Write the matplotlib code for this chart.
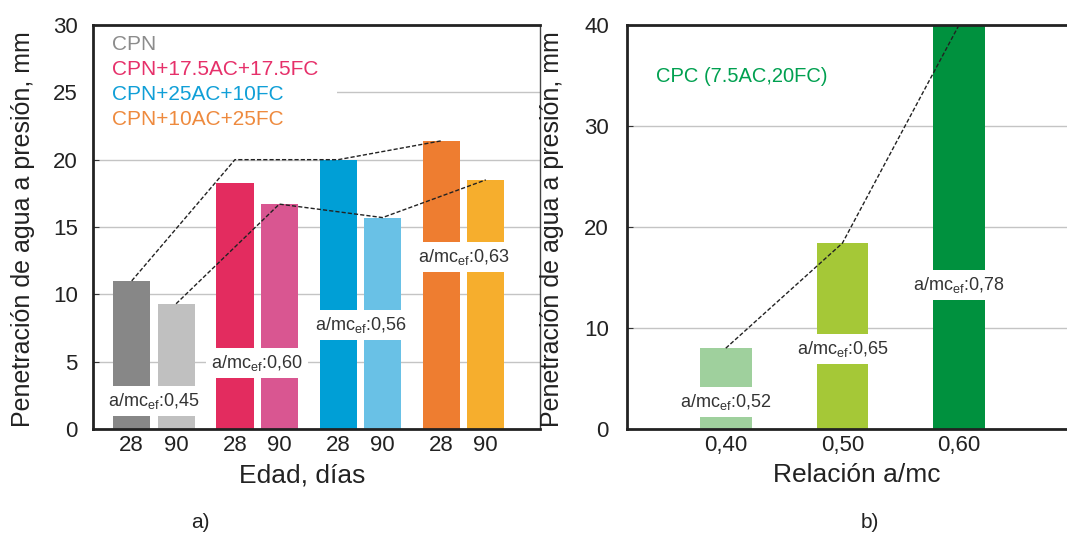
import numpy as np
import matplotlib
matplotlib.use('Agg')
import matplotlib.pyplot as plt
from matplotlib.patches import Patch

plt.rcParams['font.family'] = ['Liberation Sans', 'DejaVu Sans']
plt.rcParams['mathtext.fontset'] = 'custom'
plt.rcParams['mathtext.rm'] = 'Liberation Sans'
plt.rcParams['mathtext.it'] = 'Liberation Sans'

# panel a) data
groups = ['CPN', 'CPN+17.5AC+17.5FC', 'CPN+25AC+10FC', 'CPN+10AC+25FC']
ages = ['28', '90']
pen_28 = [11.0, 18.3, 20.0, 21.4]
pen_90 = [9.3, 16.7, 15.7, 18.5]
trend_28 = [11.0, 20.0, 20.0, 21.4]
trend_90 = [9.3, 16.7, 15.7, 18.5]
amc_a = ['0,45', '0,60', '0,56', '0,63']
amc_a_y = [2.1, 4.9, 7.75, 12.75]

# panel b) data
ratios = ['0,40', '0,50', '0,60']
pen_cpc = [8.0, 18.4, 40.0]
amc_b = ['0,52', '0,65', '0,78']
amc_b_y = [2.7, 7.9, 14.25]

col_28 = ['#878787', '#e32c5f', '#009fd6', '#ee7d30']
col_90 = ['#c0c0c0', '#d95691', '#69c1e6', '#f6ae2d']
col_leg = ['#8c8c8c', '#e6306a', '#109fd7', '#ee8a3e']
col_b = ['#9fd09d', '#a5c837', '#00913e']

W, H = 1067, 534
fig = plt.figure(figsize=(W / 100, H / 100), dpi=100)
bot = (H - 429) / H
hgt = (429 - 25) / H
ax1 = fig.add_axes([93 / W, bot, (540 - 93) / W, hgt])
ax2 = fig.add_axes([627 / W, bot, (1067 - 627) / W, hgt])

txt = '#222222'
bbox = dict(boxstyle='square,pad=0.28', fc='white', ec='none')

# ---- panel a
x = np.arange(len(groups))
off, bw = 0.215, 0.36
ax1.bar(x - off, pen_28, bw, color=col_28, zorder=2)
ax1.bar(x + off, pen_90, bw, color=col_90, zorder=2)
ax1.plot(x - off, trend_28, color='#222222', ls=(0, (3, 1.5)), lw=1, zorder=4)
ax1.plot(x + off, trend_90, color='#222222', ls=(0, (3, 1.5)), lw=1, zorder=4)
for xi, s, yi in zip(x, amc_a, amc_a_y):
    ax1.text(xi, yi, r'a/mc$_{\mathrm{ef}}$:' + s, ha='center', va='center',
             fontsize=13, color='#333333', bbox=bbox, zorder=3)

ax1.set_xlim(-0.59, 3.74)
ax1.set_ylim(0, 30)
ax1.set_yticks(range(0, 31, 5))
ax1.set_xticks(np.concatenate([x - off, x + off]))
ax1.set_xticklabels(ages[:1] * len(x) + ages[1:] * len(x))
ax1.tick_params(axis='x', length=0, pad=4, labelsize=16, labelcolor=txt)
ax1.tick_params(axis='y', length=4, direction='in', pad=11, labelsize=16,
                labelcolor=txt, color='#333333')
ax1.grid(axis='y', color='#c4c4c4', lw=1, zorder=0)
ax1.set_xlabel('Edad, días', fontsize=19, color=txt)
ax1.xaxis.set_label_coords(0.467, -0.085)
ax1.set_ylabel('Penetración de agua a presión, mm', fontsize=18, color=txt)
ax1.yaxis.set_label_coords(-0.13, 0.495)
for s in ['left', 'top', 'bottom']:
    ax1.spines[s].set_linewidth(2)
    ax1.spines[s].set_color('#222222')
ax1.spines['right'].set_linewidth(1)
ax1.spines['right'].set_color('#444444')

handles = [Patch(visible=False) for _ in groups]
leg = ax1.legend(handles, groups, loc='upper left', bbox_to_anchor=(0.0, 1.021),
                 handlelength=0, handletextpad=0,
                 fontsize=15, labelcolor=col_leg, frameon=True, framealpha=1,
                 facecolor='white', edgecolor='none', labelspacing=0.28,
                 borderaxespad=0, borderpad=0.9, fancybox=False)
leg.set_zorder(2.2)

# ---- panel b
xb = np.arange(len(ratios))
ax2.bar(xb, pen_cpc, 0.443, color=col_b, zorder=2)
ax2.plot(xb, pen_cpc, color='#222222', ls=(0, (3, 1.5)), lw=1, zorder=4)
for xi, s, yi in zip(xb, amc_b, amc_b_y):
    ax2.text(xi, yi, r'a/mc$_{\mathrm{ef}}$:' + s, ha='center', va='center',
             fontsize=13, color='#333333', bbox=bbox, zorder=3)
ax2.text(-0.6, 34.9, 'CPC (7.5AC,20FC)', fontsize=14.5, color='#00a050',
         ha='left', va='center')

ax2.set_xlim(-0.847, 2.926)
ax2.set_ylim(0, 40)
ax2.set_yticks(range(0, 41, 10))
ax2.set_xticks(xb)
ax2.set_xticklabels(ratios)
ax2.tick_params(axis='x', length=0, pad=4, labelsize=16, labelcolor=txt)
ax2.tick_params(axis='y', length=4, direction='in', pad=13, labelsize=16,
                labelcolor=txt, color='#333333')
ax2.grid(axis='y', color='#c4c4c4', lw=1, zorder=0)
ax2.set_xlabel('Relación a/mc', fontsize=19, color=txt)
ax2.xaxis.set_label_coords(0.522, -0.085)
ax2.set_ylabel('Penetración de agua a presión, mm', fontsize=18, color=txt)
ax2.yaxis.set_label_coords(-0.143, 0.495)
for s in ['left', 'top', 'bottom']:
    ax2.spines[s].set_linewidth(2)
    ax2.spines[s].set_color('#222222')
ax2.spines['right'].set_visible(False)

fig.text(200 / W, 1 - 523 / H, 'a)', fontsize=15, color=txt, ha='center', va='center')
fig.text(870 / W, 1 - 523 / H, 'b)', fontsize=15, color=txt, ha='center', va='center')

fig.savefig('out.png', dpi=100)
